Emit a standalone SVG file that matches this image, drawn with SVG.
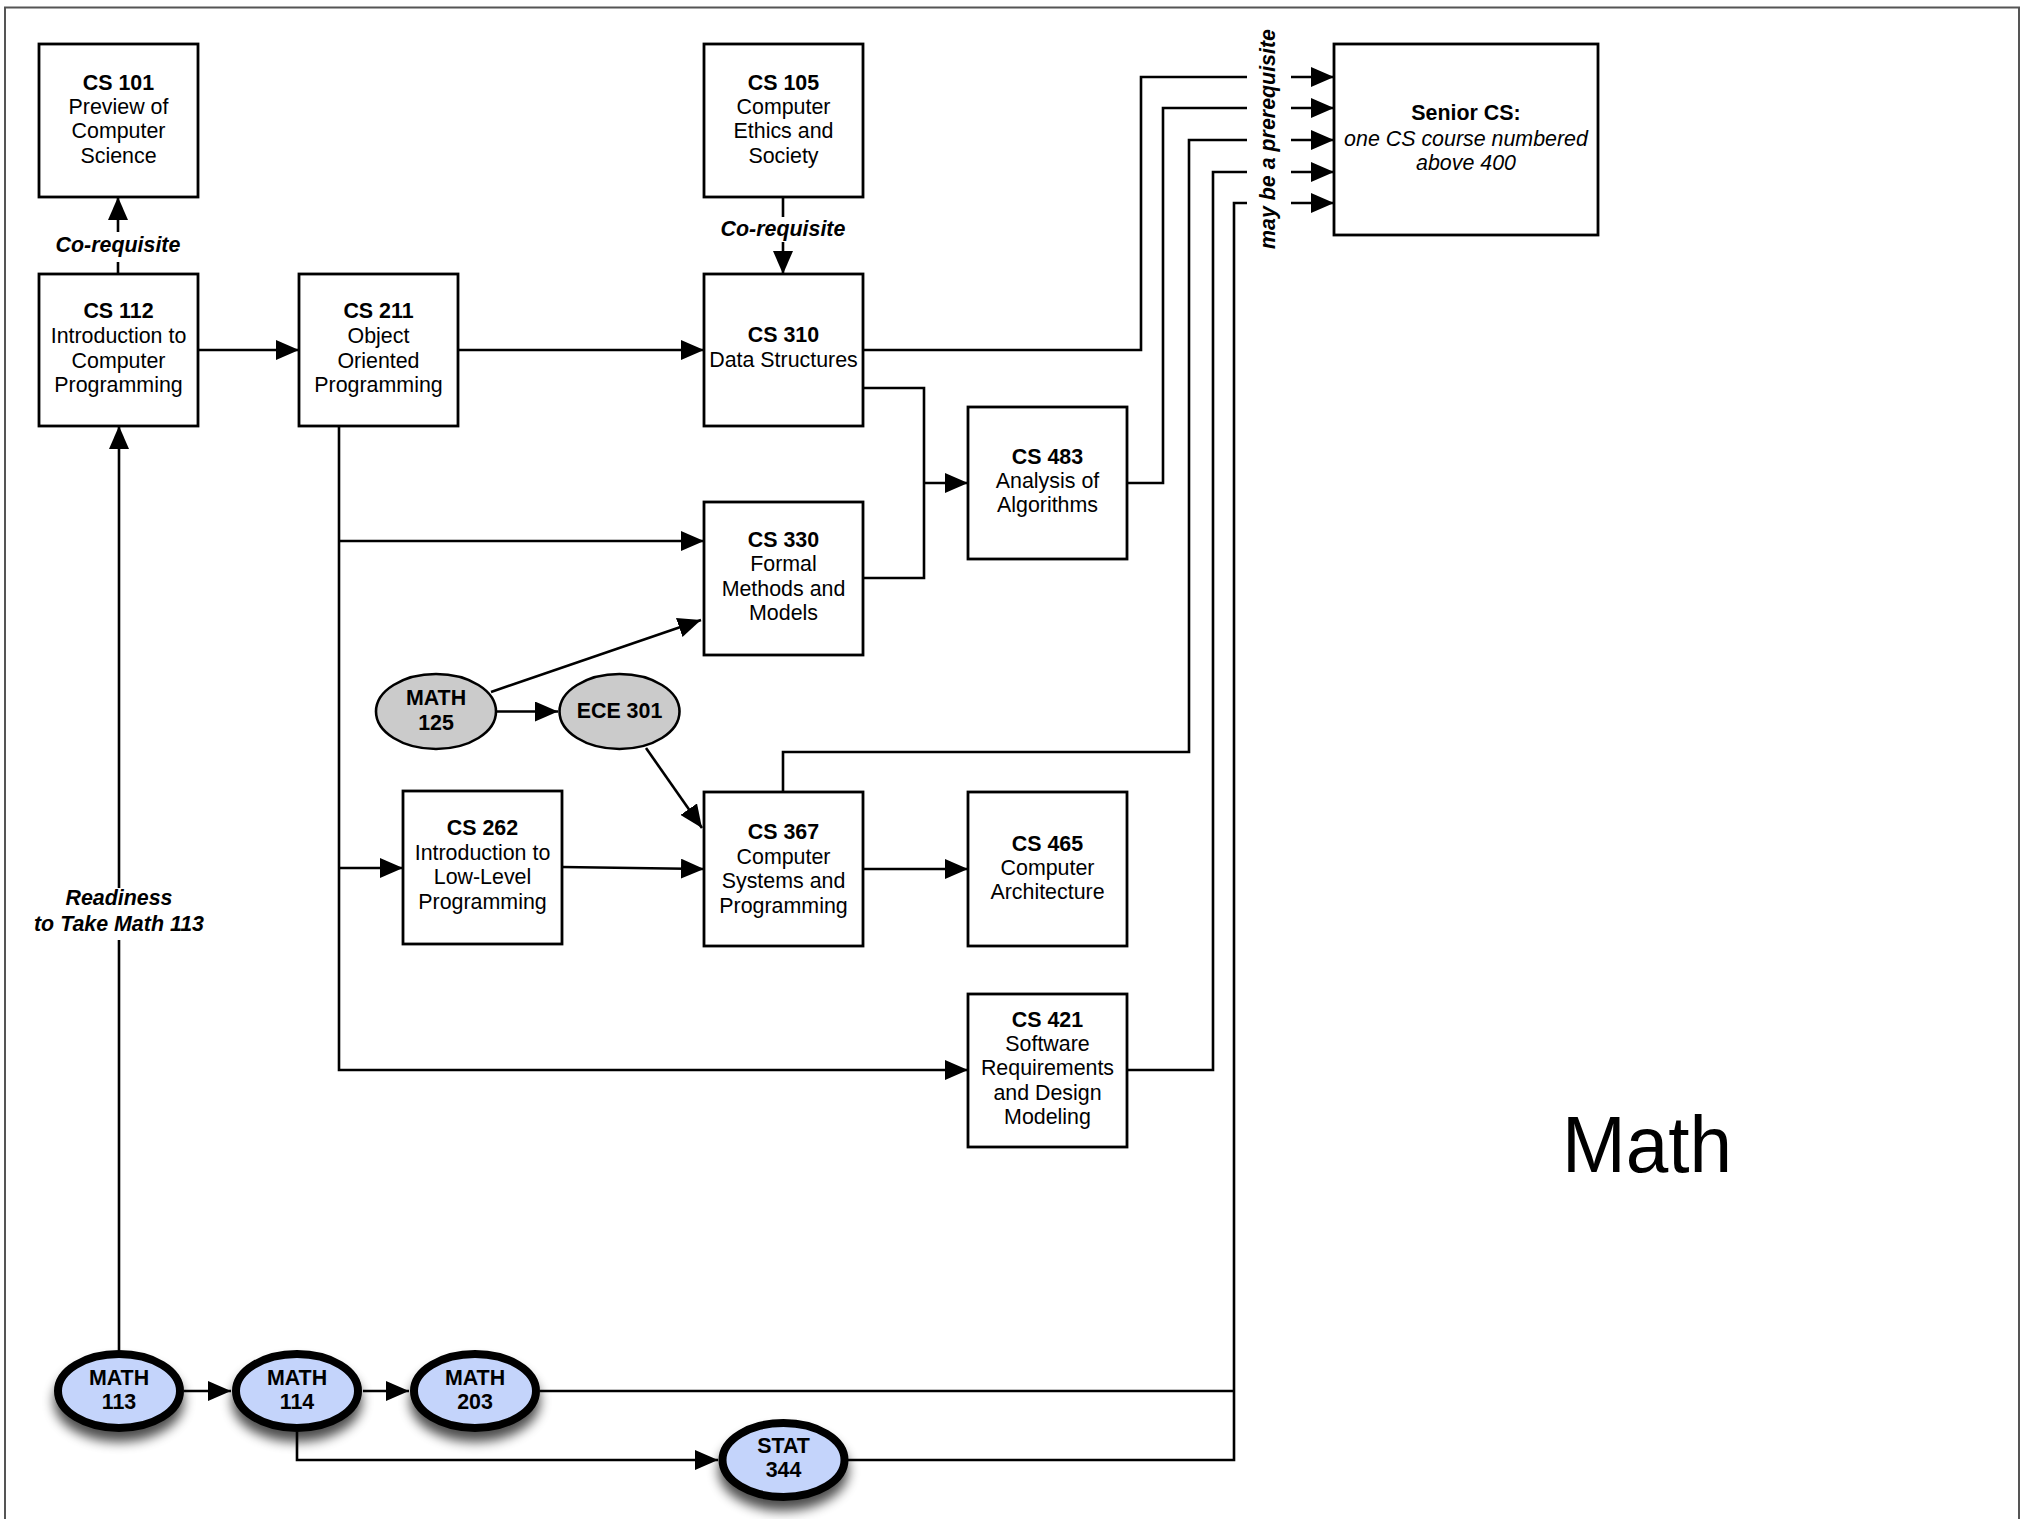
<svg xmlns="http://www.w3.org/2000/svg" width="2021" height="1519" viewBox="0 0 2021 1519">
<style>
text{font-family:"Liberation Sans",Arial,sans-serif;font-size:21.4px;fill:#000;text-anchor:middle}
.b{font-weight:bold}
.i{font-style:italic}
.bi{font-weight:bold;font-style:italic}
.big{font-size:80px;text-anchor:start}
.box{fill:#fff;stroke:#000;stroke-width:2.8}
.gray{fill:#cbcbcb;stroke:#000;stroke-width:2.6}
.blue{fill:#c4d4fb;stroke:#000;stroke-width:8}
.c{fill:none;stroke:#000;stroke-width:2.6}
.a{marker-end:url(#ah)}
</style>
<defs>
<marker id="ah" markerUnits="userSpaceOnUse" markerWidth="24" markerHeight="20" refX="23" refY="10" orient="auto">
<path d="M0,0 L23,10 L0,20 z" fill="#000"/>
</marker>
<filter id="sh" x="-30%" y="-30%" width="160%" height="180%">
<feGaussianBlur in="SourceAlpha" stdDeviation="6"/>
<feOffset dx="0" dy="10" result="o"/>
<feComponentTransfer><feFuncA type="linear" slope="0.7"/></feComponentTransfer>
<feMerge><feMergeNode/><feMergeNode in="SourceGraphic"/></feMerge>
</filter>
</defs>
<rect x="5" y="7.5" width="2014" height="1530" fill="#fff" stroke="#555" stroke-width="2"/>
<g id="connectors">
<path class="c" d="M118,274 V262"/>
<path class="c a" d="M118,232 V197"/>
<path class="c" d="M783,197 V217"/>
<path class="c a" d="M783,242 V274"/>
<path class="c a" d="M198,350 H299"/>
<path class="c a" d="M458,350 H704"/>
<path class="c" d="M863,350 H1141 V77 H1247"/>
<path class="c" d="M1127,483 H1163 V108 H1247"/>
<path class="c" d="M783,792 V752 H1189 V140 H1247"/>
<path class="c" d="M1127,1070 H1213 V172 H1247"/>
<path class="c" d="M540,1391 H1234"/>
<path class="c" d="M848,1460 H1234 V203 H1247"/>
<path class="c a" d="M1291,77 H1334"/>
<path class="c a" d="M1291,108 H1334"/>
<path class="c a" d="M1291,140 H1334"/>
<path class="c a" d="M1291,172 H1334"/>
<path class="c a" d="M1291,203 H1334"/>
<path class="c" d="M863,388 H924 V578 H863"/>
<path class="c a" d="M924,483 H968"/>
<path class="c a" d="M339,426 V1070 H968"/>
<path class="c a" d="M339,541 H704"/>
<path class="c a" d="M339,868 H403"/>
<path class="c a" d="M491,692 L701,620"/>
<path class="c a" d="M497,711.5 H558"/>
<path class="c a" d="M646,748 L702,828"/>
<path class="c a" d="M562,867 L704,869"/>
<path class="c a" d="M863,869 H968"/>
<path class="c" d="M119,1350 V940"/>
<path class="c a" d="M119,888 V426"/>
<path class="c a" d="M184,1391 H231"/>
<path class="c a" d="M363,1391 H409"/>
<path class="c a" d="M297,1432 V1460 H718"/>
<text class="bi" x="118" y="252">Co-requisite</text>
<text class="bi" x="783" y="236">Co-requisite</text>
<text class="bi" x="119" y="905">Readiness</text>
<text class="bi" x="119" y="931">to Take Math 113</text>
<text class="bi" transform="translate(1275,139) rotate(-90)" x="0" y="0">may be a prerequisite</text>
</g>
<g id="cs101"><rect class="box" x="39" y="44" width="159" height="153"/>
<text class="b" x="118.5" y="90">CS 101</text><text x="118.5" y="114">Preview of</text><text x="118.5" y="138">Computer</text><text x="118.5" y="163">Science</text></g>
<g id="cs105"><rect class="box" x="704" y="44" width="159" height="153"/>
<text class="b" x="783.5" y="90">CS 105</text><text x="783.5" y="114">Computer</text><text x="783.5" y="138">Ethics and</text><text x="783.5" y="163">Society</text></g>
<g id="senior"><rect class="box" x="1334" y="44" width="264" height="191"/>
<text class="b" x="1466" y="120">Senior CS:</text><text class="i" x="1466" y="146">one CS course numbered</text><text class="i" x="1466" y="170">above 400</text></g>
<g id="cs112"><rect class="box" x="39" y="274" width="159" height="152"/>
<text class="b" x="118.5" y="318">CS 112</text><text x="118.5" y="343">Introduction to</text><text x="118.5" y="368">Computer</text><text x="118.5" y="392">Programming</text></g>
<g id="cs211"><rect class="box" x="299" y="274" width="159" height="152"/>
<text class="b" x="378.5" y="318">CS 211</text><text x="378.5" y="343">Object</text><text x="378.5" y="368">Oriented</text><text x="378.5" y="392">Programming</text></g>
<g id="cs310"><rect class="box" x="704" y="274" width="159" height="152"/>
<text class="b" x="783.5" y="342">CS 310</text><text x="783.5" y="367">Data Structures</text></g>
<g id="cs483"><rect class="box" x="968" y="407" width="159" height="152"/>
<text class="b" x="1047.5" y="464">CS 483</text><text x="1047.5" y="488">Analysis of</text><text x="1047.5" y="512">Algorithms</text></g>
<g id="cs330"><rect class="box" x="704" y="502" width="159" height="153"/>
<text class="b" x="783.5" y="547">CS 330</text><text x="783.5" y="571">Formal</text><text x="783.5" y="596">Methods and</text><text x="783.5" y="620">Models</text></g>
<g id="math125"><ellipse class="gray" cx="436" cy="711.5" rx="60" ry="37.5"/>
<text class="b" x="436" y="705">MATH</text><text class="b" x="436" y="730">125</text></g>
<g id="ece301"><ellipse class="gray" cx="619.5" cy="711.5" rx="60" ry="37.5"/>
<text class="b" x="619.5" y="718">ECE 301</text></g>
<g id="cs262"><rect class="box" x="403" y="791" width="159" height="153"/>
<text class="b" x="482.5" y="835">CS 262</text><text x="482.5" y="860">Introduction to</text><text x="482.5" y="884">Low-Level</text><text x="482.5" y="909">Programming</text></g>
<g id="cs367"><rect class="box" x="704" y="792" width="159" height="154"/>
<text class="b" x="783.5" y="839">CS 367</text><text x="783.5" y="864">Computer</text><text x="783.5" y="888">Systems and</text><text x="783.5" y="913">Programming</text></g>
<g id="cs465"><rect class="box" x="968" y="792" width="159" height="154"/>
<text class="b" x="1047.5" y="851">CS 465</text><text x="1047.5" y="875">Computer</text><text x="1047.5" y="899">Architecture</text></g>
<g id="cs421"><rect class="box" x="968" y="994" width="159" height="153"/>
<text class="b" x="1047.5" y="1027">CS 421</text><text x="1047.5" y="1051">Software</text><text x="1047.5" y="1075">Requirements</text><text x="1047.5" y="1100">and Design</text><text x="1047.5" y="1124">Modeling</text></g>
<g id="math113"><ellipse class="blue" cx="119" cy="1391" rx="61" ry="37" filter="url(#sh)"/>
<text class="b" x="119" y="1385">MATH</text><text class="b" x="119" y="1409">113</text></g>
<g id="math114"><ellipse class="blue" cx="297" cy="1391" rx="61" ry="37" filter="url(#sh)"/>
<text class="b" x="297" y="1385">MATH</text><text class="b" x="297" y="1409">114</text></g>
<g id="math203"><ellipse class="blue" cx="475" cy="1391" rx="61" ry="37" filter="url(#sh)"/>
<text class="b" x="475" y="1385">MATH</text><text class="b" x="475" y="1409">203</text></g>
<g id="stat344"><ellipse class="blue" cx="783.5" cy="1460" rx="61" ry="37" filter="url(#sh)"/>
<text class="b" x="783.5" y="1453">STAT</text><text class="b" x="783.5" y="1477">344</text></g>
<text class="big" x="1562" y="1172" textLength="170" lengthAdjust="spacingAndGlyphs">Math</text>
</svg>
